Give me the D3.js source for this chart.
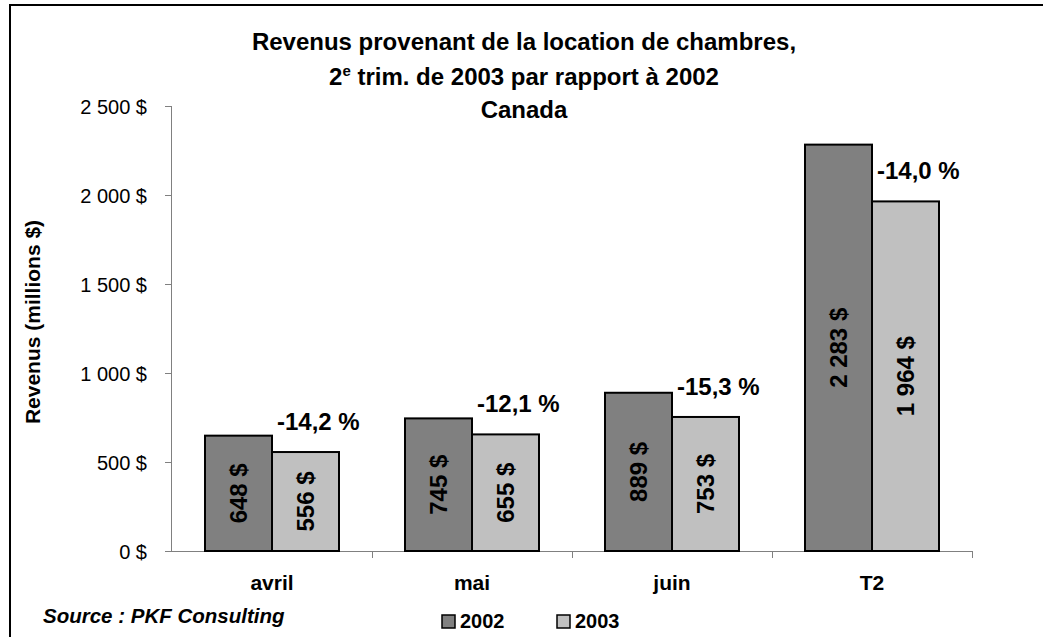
<!DOCTYPE html>
<html><head><meta charset="utf-8">
<script src="https://cdn.jsdelivr.net/npm/d3@7"></script>
<style>body{margin:0;background:#fff}svg{display:block}text{font-family:"Liberation Sans",Arial,sans-serif}</style>
</head><body><svg id="c" width="1043" height="637"></svg>
<script>
const categories = ["avril","mai","juin","T2"];
const series = ["2002","2003"];
const values2002 = [648,745,889,2283];
const values2003 = [556,655,753,1964];
const changes = ["-14,2 %","-12,1 %","-15,3 %","-14,0 %"];
const valueLabels2002 = ["648 $","745 $","889 $","2 283 $"];
const valueLabels2003 = ["556 $","655 $","753 $","1 964 $"];
const yTicks = [0,500,1000,1500,2000,2500];
const yTickLabels = ["0 $","500 $","1 000 $","1 500 $","2 000 $","2 500 $"];
const colors = {"2002":"#808080","2003":"#c0c0c0"};

const svg = d3.select("#c");
// outer frame
svg.append("rect").attr("x",10).attr("y",5).attr("width",1100).attr("height",700)
  .attr("fill","none").attr("stroke","#000").attr("stroke-width",2);

const x0 = d3.scaleBand().domain(categories).range([172,972]).paddingInner(0.33).paddingOuter(0.165);
const x1 = d3.scaleBand().domain(series).range([0,x0.bandwidth()]);
const y = d3.scaleLinear().domain([0,2500]).range([551,106]);

// y axis
const ya = svg.append("g").attr("transform","translate(172,0)")
  .call(d3.axisLeft(y).tickValues(yTicks).tickSize(7).tickFormat((d,i)=>yTickLabels[i]));
ya.select(".domain").attr("stroke","#808080").attr("d","M-0.5,106V551");
ya.selectAll(".tick line").attr("stroke","#808080");
ya.selectAll(".tick text").attr("font-size",20).attr("fill","#000").attr("dy","0.35em").attr("x",-25);

// x axis
svg.append("line").attr("x1",165).attr("x2",972).attr("y1",551.5).attr("y2",551.5).attr("stroke","#808080");
const xb = d3.scaleLinear().domain([0,categories.length]).range([172,972]);
svg.selectAll(".xt").data(d3.range(1,categories.length+1)).join("line")
  .attr("x1",d=>xb(d)+0.5).attr("x2",d=>xb(d)+0.5).attr("y1",551).attr("y2",558).attr("stroke","#808080");
svg.selectAll(".xl").data(categories).join("text")
  .attr("x",d=>x0(d)+x0.bandwidth()/2).attr("y",590).attr("text-anchor","middle")
  .attr("font-size",21).attr("font-weight","bold").text(d=>d);

// bars
const data = categories.map((c,i)=>({c, v:[values2002[i],values2003[i]], l:[valueLabels2002[i],valueLabels2003[i]], ch:changes[i]}));
const g = svg.selectAll(".grp").data(data).join("g").attr("transform",d=>`translate(${x0(d.c)},0)`);
series.forEach((s,si)=>{
  g.append("rect").attr("x",x1(s)).attr("width",x1.bandwidth())
    .attr("y",d=>y(d.v[si])).attr("height",d=>y(0)-y(d.v[si]))
    .attr("fill",colors[s]).attr("stroke","#000").attr("stroke-width",2);
  g.append("text")
    .attr("transform",d=>`translate(${x1(s)+x1.bandwidth()/2},${(y(d.v[si])+y(0))/2}) rotate(-90)`)
    .attr("text-anchor","middle").attr("dy","0.35em").attr("font-size",24).attr("font-weight","bold")
    .text(d=>d.l[si]);
});
g.append("text").attr("x",x1("2003")+5).attr("y",d=>y(d.v[1])-22)
  .attr("font-size",24).attr("font-weight","bold").text(d=>d.ch);

// title
svg.append("text").attr("text-anchor","middle").attr("font-size",24).attr("font-weight","bold")
  .attr("x",524).attr("y",50).text("Revenus provenant de la location de chambres,");
const t2 = svg.append("text").attr("text-anchor","middle").attr("font-size",24).attr("font-weight","bold").attr("x",524).attr("y",85);
t2.append("tspan").text("2");
t2.append("tspan").attr("font-size",15).attr("dy",-9).text("e");
t2.append("tspan").attr("dy",9).text(" trim. de 2003 par rapport à 2002");
svg.append("text").attr("text-anchor","middle").attr("font-size",24).attr("font-weight","bold")
  .attr("x",524).attr("y",118).text("Canada");

// y title
svg.append("text").attr("transform","translate(40,322) rotate(-90)").attr("text-anchor","middle")
  .attr("font-size",21).attr("font-weight","bold").text("Revenus (millions $)");

// source
svg.append("text").attr("x",43).attr("y",623).attr("font-size",20.5).attr("font-weight","bold")
  .attr("font-style","italic").text("Source : PKF Consulting");

// legend
const leg = svg.selectAll(".leg").data(series).join("g").attr("transform",(d,i)=>`translate(${442+i*115},615)`);
leg.append("rect").attr("width",13).attr("height",13).attr("fill",d=>colors[d]).attr("stroke","#000").attr("stroke-width",1.5);
leg.append("text").attr("x",18).attr("y",13).attr("font-size",20).attr("font-weight","bold").text(d=>d);
</script></body></html>
